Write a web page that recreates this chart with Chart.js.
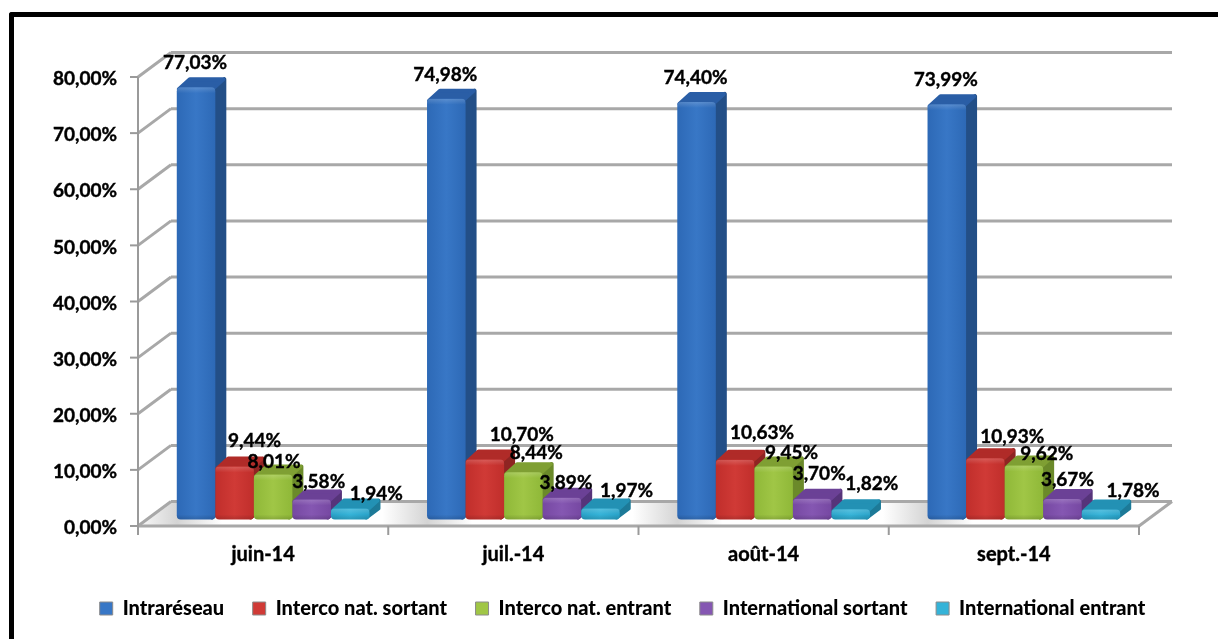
<!DOCTYPE html>
<html>
<head>
<meta charset="utf-8">
<script src="https://cdn.jsdelivr.net/npm/chart.js@4"></script>
<style>
    html, body { margin: 0; padding: 0; background: #fff; overflow: hidden; }
    #wrap { position: relative; width: 1218px; height: 639px; }
    #cadre { position: absolute; left: 9px; top: 12px; right: -10px; bottom: -10px; border-left: 5px solid #000; border-top: 5px solid #000; border-top-left-radius: 3px; }
    canvas { position: absolute; left: 0; top: 0; }
</style>
</head>
<body>
<div id="wrap">
    <div id="cadre"></div>
    <canvas id="grafico" width="1218" height="639"></canvas>
</div>
<script>
const mois = ["juin-14", "juil.-14", "août-14", "sept.-14"];
const intrareseau = [77.03, 74.98, 74.40, 73.99];
const intercoSortant = [9.44, 10.70, 10.63, 10.93];
const intercoEntrant = [8.01, 8.44, 9.45, 9.62];
const internationalSortant = [3.58, 3.89, 3.70, 3.67];
const internationalEntrant = [1.94, 1.97, 1.82, 1.78];
const graduations = [0, 10, 20, 30, 40, 50, 60, 70, 80];

// front, top, side colours of the 3D bars
const couleurs = [
    { face: "#2d69b6", clair: "#3877c6", dessus: "#2a5ea6", cote: "#234f87" },
    { face: "#c02e2b", clair: "#d03a36", dessus: "#b02b28", cote: "#8f2422" },
    { face: "#8fb838", clair: "#a0c646", dessus: "#7f9f33", cote: "#6b8a2a" },
    { face: "#7648a2", clair: "#8557b2", dessus: "#6b4196", cote: "#56347a" },
    { face: "#28a2c8", clair: "#35b3d8", dessus: "#2391b4", cote: "#1d7a98" }
];

// where each percentage sits, relative to the top of its bar
const labelDx = [
    [-1, -1, -1, -1],
    [20, 37, 27, 27],
    [1, 13, 18, 23],
    [7, 4, 7, 5],
    [26, 26, 21, 32]
];
const labelDy = [
    [-24, -24, -24, -24],
    [-26, -25, -27, -21],
    [-13, -19, -14, -12],
    [-18, -15, -25, -19],
    [-15, -18, -25, -19]
];

const POLICE = "Lato";
const TAILLE = 19;
const TAILLE_LEGENDE = 20;
const GRIS = "#a8a8a8";
const MUR_X = 33, MUR_Y = -24.5;
const BARRE_X = 10, BARRE_Y = -6.5;
const PROF_X = 11, PROF_Y = 10;

function ligne(ctx, x1, y1, x2, y2) {
    ctx.beginPath();
    ctx.moveTo(x1, y1);
    ctx.lineTo(x2, y2);
    ctx.stroke();
}

function dessinerMurs(chart) {
    const ctx = chart.ctx;
    const { x, y } = chart.scales;
    const zero = y.getPixelForValue(0);
    const gauche = chart.chartArea.left;
    const droite = chart.chartArea.right;

    // floor
    ctx.save();
    ctx.beginPath();
    ctx.moveTo(gauche, zero);
    ctx.lineTo(gauche + MUR_X, zero + MUR_Y);
    ctx.lineTo(droite + MUR_X, zero + MUR_Y);
    ctx.lineTo(droite, zero);
    ctx.closePath();
    ctx.fillStyle = "#fff";
    ctx.fill();
    ctx.clip();
    mois.forEach((m, i) => {
        const bord = x.getPixelForValue(i) - 125 + 39;
        const degrade = ctx.createLinearGradient(bord - 45, 0, bord + 45, 0);
        degrade.addColorStop(0, "rgba(212,212,212,0)");
        degrade.addColorStop(0.5, "rgba(212,212,212,1)");
        degrade.addColorStop(1, "rgba(212,212,212,0)");
        ctx.fillStyle = degrade;
        ctx.fillRect(bord - 45, zero + MUR_Y, 90, -MUR_Y);
    });
    ctx.restore();

    ctx.save();
    ctx.strokeStyle = GRIS;
    ctx.lineWidth = 3;
    graduations.forEach(v => {
        const py = y.getPixelForValue(v);
        ligne(ctx, gauche + MUR_X, py + MUR_Y, droite + MUR_X, py + MUR_Y);
        ligne(ctx, gauche, py, gauche + MUR_X, py + MUR_Y);
    });
    ligne(ctx, gauche, zero, droite, zero);
    ligne(ctx, droite, zero, droite + MUR_X, zero + MUR_Y);

    ctx.lineWidth = 2;
    ctx.strokeStyle = "#9a9a9a";
    ligne(ctx, gauche, y.getPixelForValue(80), gauche, zero + 9);
    graduations.forEach(v => {
        const py = y.getPixelForValue(v);
        ligne(ctx, gauche - 8, py, gauche, py);
    });
    for (let i = 0; i <= mois.length; i++) {
        const px = gauche + (droite - gauche) * i / mois.length;
        ligne(ctx, px, zero, px, zero + 9);
    }
    ctx.restore();
}

function dessinerBarre(ctx, el, c) {
    const g = el.x - el.width / 2 + BARRE_X;
    const d = el.x + el.width / 2 + BARRE_X;
    const haut = el.y + BARRE_Y;
    const bas = el.base + BARRE_Y;

    ctx.save();
    ctx.lineJoin = "round";
    ctx.lineWidth = 4;

    // side
    ctx.fillStyle = c.cote;
    ctx.strokeStyle = c.cote;
    ctx.beginPath();
    ctx.moveTo(d - 3, haut + 2);
    ctx.lineTo(d + PROF_X - 2, haut - PROF_Y + 2);
    ctx.lineTo(d + PROF_X - 2, bas - PROF_Y - 1);
    ctx.lineTo(d - 3, bas - 2);
    ctx.closePath();
    ctx.fill();
    ctx.stroke();

    // top
    ctx.fillStyle = c.dessus;
    ctx.strokeStyle = c.dessus;
    ctx.beginPath();
    ctx.moveTo(g + 2, haut + 2);
    ctx.lineTo(g + PROF_X + 2, haut - PROF_Y + 2);
    ctx.lineTo(d + PROF_X - 3, haut - PROF_Y + 2);
    ctx.lineTo(d - 3, haut + 2);
    ctx.closePath();
    ctx.fill();
    ctx.stroke();

    // front
    const degrade = ctx.createLinearGradient(g, 0, d, 0);
    degrade.addColorStop(0, c.face);
    degrade.addColorStop(0.5, c.clair);
    degrade.addColorStop(1, c.face);
    ctx.fillStyle = degrade;
    ctx.beginPath();
    ctx.roundRect(g, haut, d - g, bas - haut, 4);
    ctx.fill();

    // soft bevel along the top and bottom edges
    ctx.clip();
    const brillant = ctx.createLinearGradient(0, haut, 0, haut + 6);
    brillant.addColorStop(0, "rgba(255,255,255,0.18)");
    brillant.addColorStop(1, "rgba(255,255,255,0)");
    ctx.fillStyle = brillant;
    ctx.fillRect(g, haut, d - g, 6);
    const ombre = ctx.createLinearGradient(0, bas - 5, 0, bas);
    ombre.addColorStop(0, "rgba(0,0,0,0)");
    ombre.addColorStop(1, "rgba(0,0,0,0.15)");
    ctx.fillStyle = ombre;
    ctx.fillRect(g, bas - 5, d - g, 5);
    ctx.restore();
}

const plugin3d = {
    id: "plugin3d",
    afterLayout(chart) {
        // the legend is centred on the frame, not on the canvas
        chart.legend.left = 27;
        chart.legend.right = 1218;
        chart.legend.top = 570;
    },
    beforeDatasetsDraw(chart) {
        dessinerMurs(chart);
        // blue first so the later series sit in front of its side face
        chart.data.datasets.forEach((ds, i) => {
            chart.getDatasetMeta(i).data.forEach(el => dessinerBarre(chart.ctx, el, couleurs[i]));
        });
        return false;
    },
    afterDraw(chart) {
        const ctx = chart.ctx;
        ctx.save();
        ctx.font = "bold " + TAILLE + "px " + POLICE;
        ctx.fillStyle = "#000";
        ctx.strokeStyle = "#000";
        ctx.lineWidth = 0.4;
        ctx.textAlign = "center";
        ctx.textBaseline = "middle";
        chart.data.datasets.forEach((ds, i) => {
            chart.getDatasetMeta(i).data.forEach((el, j) => {
                const texte = ds.data[j].toFixed(2).replace(".", ",") + "%";
                const px = el.x + BARRE_X + labelDx[i][j];
                const py = el.y + BARRE_Y + labelDy[i][j];
                ctx.fillText(texte, px, py);
                ctx.strokeText(texte, px, py);
            });
        });
        ctx.restore();
    }
};

function serie(label, data, i) {
    return {
        label: label,
        data: data,
        backgroundColor: couleurs[i].clair,
        borderColor: "#8c8c8c",
        borderWidth: 1,
        categoryPercentage: 0.77,
        barPercentage: 1
    };
}

new Chart(document.getElementById("grafico"), {
    type: "bar",
    data: {
        labels: mois,
        datasets: [
            serie("Intraréseau", intrareseau, 0),
            serie("Interco nat. sortant", intercoSortant, 1),
            serie("Interco nat. entrant", intercoEntrant, 2),
            serie("International sortant", internationalSortant, 3),
            serie("International entrant", internationalEntrant, 4)
        ]
    },
    options: {
        responsive: false,
        animation: false,
        layout: { padding: { left: 0, right: 79, top: 77, bottom: 0 } },
        plugins: {
            tooltip: { enabled: false },
            legend: {
                position: "bottom",
                labels: {
                    boxWidth: 13,
                    boxHeight: 13,
                    padding: 28.5,
                    color: "#000",
                    font: { family: POLICE, size: TAILLE_LEGENDE, weight: 900 }
                }
            }
        },
        scales: {
            x: {
                grid: { display: false, drawTicks: false },
                border: { display: false },
                ticks: {
                    color: "#000",
                    padding: 17,
                    textStrokeColor: "#000",
                    textStrokeWidth: 0.4,
                    font: { family: POLICE, size: TAILLE_LEGENDE, weight: "bold" }
                },
                afterFit: s => { s.height = 639 - s.chart.legend.height - 526; }
            },
            y: {
                min: 0,
                max: 80,
                grid: { display: false, drawTicks: false },
                border: { display: false },
                afterBuildTicks: s => { s.ticks = graduations.map(v => ({ value: v })); },
                ticks: {
                    color: "#000",
                    padding: 21,
                    labelOffset: 2,
                    textStrokeColor: "#000",
                    textStrokeWidth: 0.4,
                    font: { family: POLICE, size: TAILLE, weight: "bold" },
                    callback: v => v.toFixed(2).replace(".", ",") + "%"
                },
                afterFit: s => { s.width = 138; }
            }
        }
    },
    plugins: [plugin3d]
});
</script>
</body>
</html>
